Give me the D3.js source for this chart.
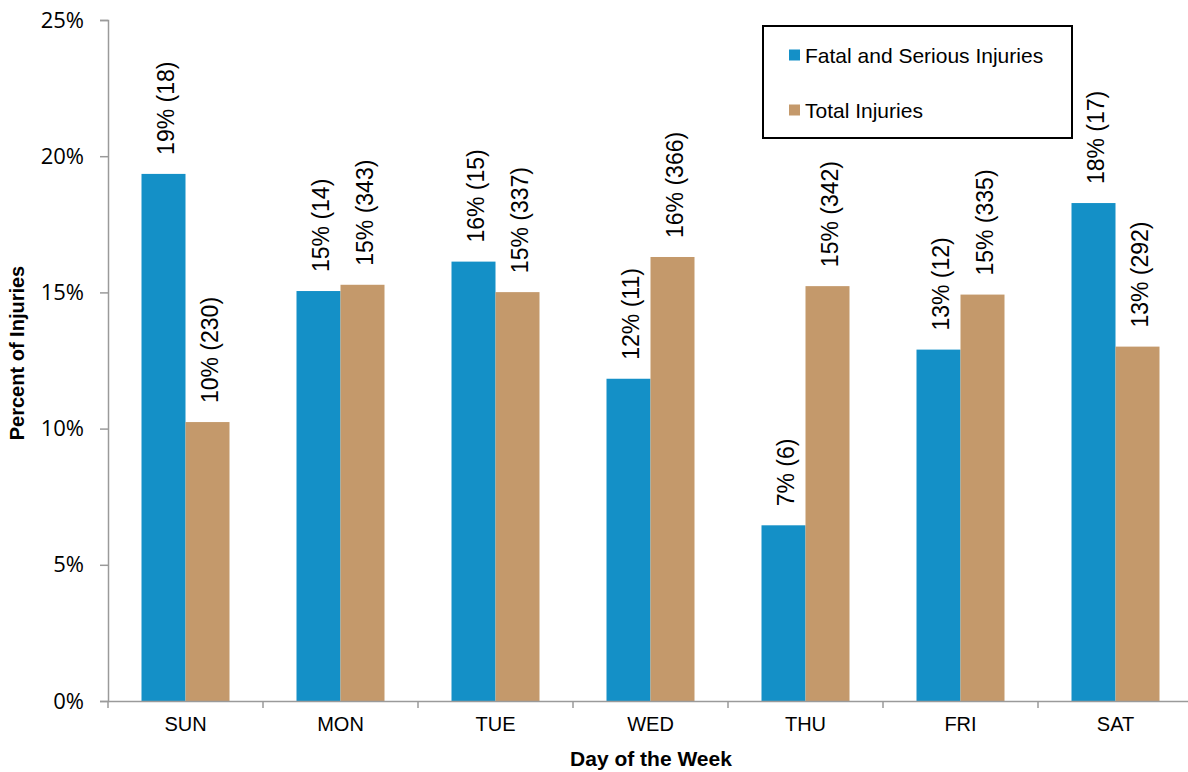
<!DOCTYPE html>
<html>
<head>
<meta charset="utf-8">
<script src="https://cdn.jsdelivr.net/npm/d3@7/dist/d3.min.js"></script>
<style>
  html, body { margin: 0; padding: 0; background: #fff; }
  svg { display: block; }
</style>
</head>
<body>
<div id="chart"></div>
<script>
const days = ["SUN", "MON", "TUE", "WED", "THU", "FRI", "SAT"];
const seriesNames = ["Fatal and Serious Injuries", "Total Injuries"];
const fatalValues = [19.35, 15.05, 16.13, 11.83, 6.45, 12.90, 18.28];
const totalValues = [10.24, 15.28, 15.01, 16.30, 15.23, 14.92, 13.01];
const fatalLabels = ["19% (18)", "15% (14)", "16% (15)", "12% (11)", "7% (6)", "13% (12)", "18% (17)"];
const totalLabels = ["10% (230)", "15% (343)", "15% (337)", "16% (366)", "15% (342)", "15% (335)", "13% (292)"];
const yTicks = [0, 5, 10, 15, 20, 25];
const colors = ["#1490C7", "#C4996B"];

const W = 1188, H = 772;
const svg = d3.select("#chart").append("svg").attr("width", W).attr("height", H);

const x0 = d3.scaleBand().domain(days).range([108, 1193]).paddingInner(0).paddingOuter(0);
const bw = x0.bandwidth();
const x1 = d3.scaleBand().domain(seriesNames).range([bw / 2 - 44, bw / 2 + 44]);
const y = d3.scaleLinear().domain([0, 25]).range([701, 20]);

const axisColor = "#9a9a9a";

// Y axis
const yAxis = svg.append("g").attr("transform", "translate(108,0)")
  .call(d3.axisLeft(y).tickValues(yTicks).tickSize(8).tickPadding(16).tickFormat(d => d + "%"));
yAxis.select(".domain").attr("stroke", axisColor).attr("stroke-width", 1.5);
yAxis.selectAll(".tick line").attr("stroke", axisColor).attr("stroke-width", 1.5);
yAxis.selectAll(".tick text").attr("fill", "#000")
  .style("font-family", "'Open Sans', sans-serif").style("font-size", "22px");

// Data rows
const rows = days.map((d, i) => ({
  day: d,
  vals: [
    { s: seriesNames[0], v: fatalValues[i], label: fatalLabels[i] },
    { s: seriesNames[1], v: totalValues[i], label: totalLabels[i] }
  ]
}));

const groups = svg.append("g").selectAll("g").data(rows).join("g")
  .attr("transform", d => `translate(${x0(d.day)},0)`);

groups.selectAll("rect").data(d => d.vals).join("rect")
  .attr("x", d => x1(d.s))
  .attr("width", x1.bandwidth())
  .attr("y", d => y(d.v))
  .attr("height", d => y(0) - y(d.v))
  .attr("fill", (d, i) => colors[i]);

groups.selectAll("text.lbl").data(d => d.vals).join("text")
  .attr("class", "lbl")
  .attr("transform", d => `translate(${x1(d.s) + x1.bandwidth() / 2 + 2},${y(d.v) - 19}) rotate(-90)`)
  .attr("dy", "0.36em")
  .attr("text-anchor", "start")
  .style("font-family", "Arial, 'Liberation Sans', sans-serif")
  .style("font-size", "23px")
  .attr("fill", "#000")
  .text(d => d.label);

// X axis
const xAxis = svg.append("g").attr("transform", "translate(0,701)")
  .call(d3.axisBottom(x0).tickSize(0).tickPadding(16));
xAxis.select(".domain").attr("stroke", axisColor).attr("stroke-width", 1.5);
xAxis.selectAll(".tick text").attr("fill", "#000")
  .style("font-family", "Arial, 'Liberation Sans', sans-serif").style("font-size", "20px");
// category boundary ticks
svg.append("g").selectAll("line").data(days).join("line")
  .attr("x1", d => x0(d)).attr("x2", d => x0(d))
  .attr("y1", 701).attr("y2", 708)
  .attr("stroke", axisColor).attr("stroke-width", 1.5);

// Axis titles
svg.append("text")
  .attr("transform", "translate(24,353) rotate(-90)")
  .attr("text-anchor", "middle")
  .style("font-family", "Arial, 'Liberation Sans', sans-serif")
  .style("font-size", "20px").style("font-weight", "bold")
  .text("Percent of Injuries");

svg.append("text")
  .attr("x", 651).attr("y", 766)
  .attr("text-anchor", "middle")
  .style("font-family", "Arial, 'Liberation Sans', sans-serif")
  .style("font-size", "21px").style("font-weight", "bold")
  .text("Day of the Week");

// Legend
const lg = svg.append("g");
lg.append("rect").attr("x", 763).attr("y", 26).attr("width", 309).attr("height", 112)
  .attr("fill", "#fff").attr("stroke", "#000").attr("stroke-width", 2);
const items = lg.selectAll("g").data(seriesNames).join("g")
  .attr("transform", (d, i) => `translate(789,${55 + i * 55})`);
items.append("rect").attr("x", 0).attr("y", -5.5).attr("width", 11).attr("height", 11)
  .attr("fill", (d, i) => colors[i]);
items.append("text").attr("x", 16).attr("dy", "0.36em")
  .style("font-family", "Arial, 'Liberation Sans', sans-serif").style("font-size", "21px")
  .text(d => d);
</script>
</body>
</html>
